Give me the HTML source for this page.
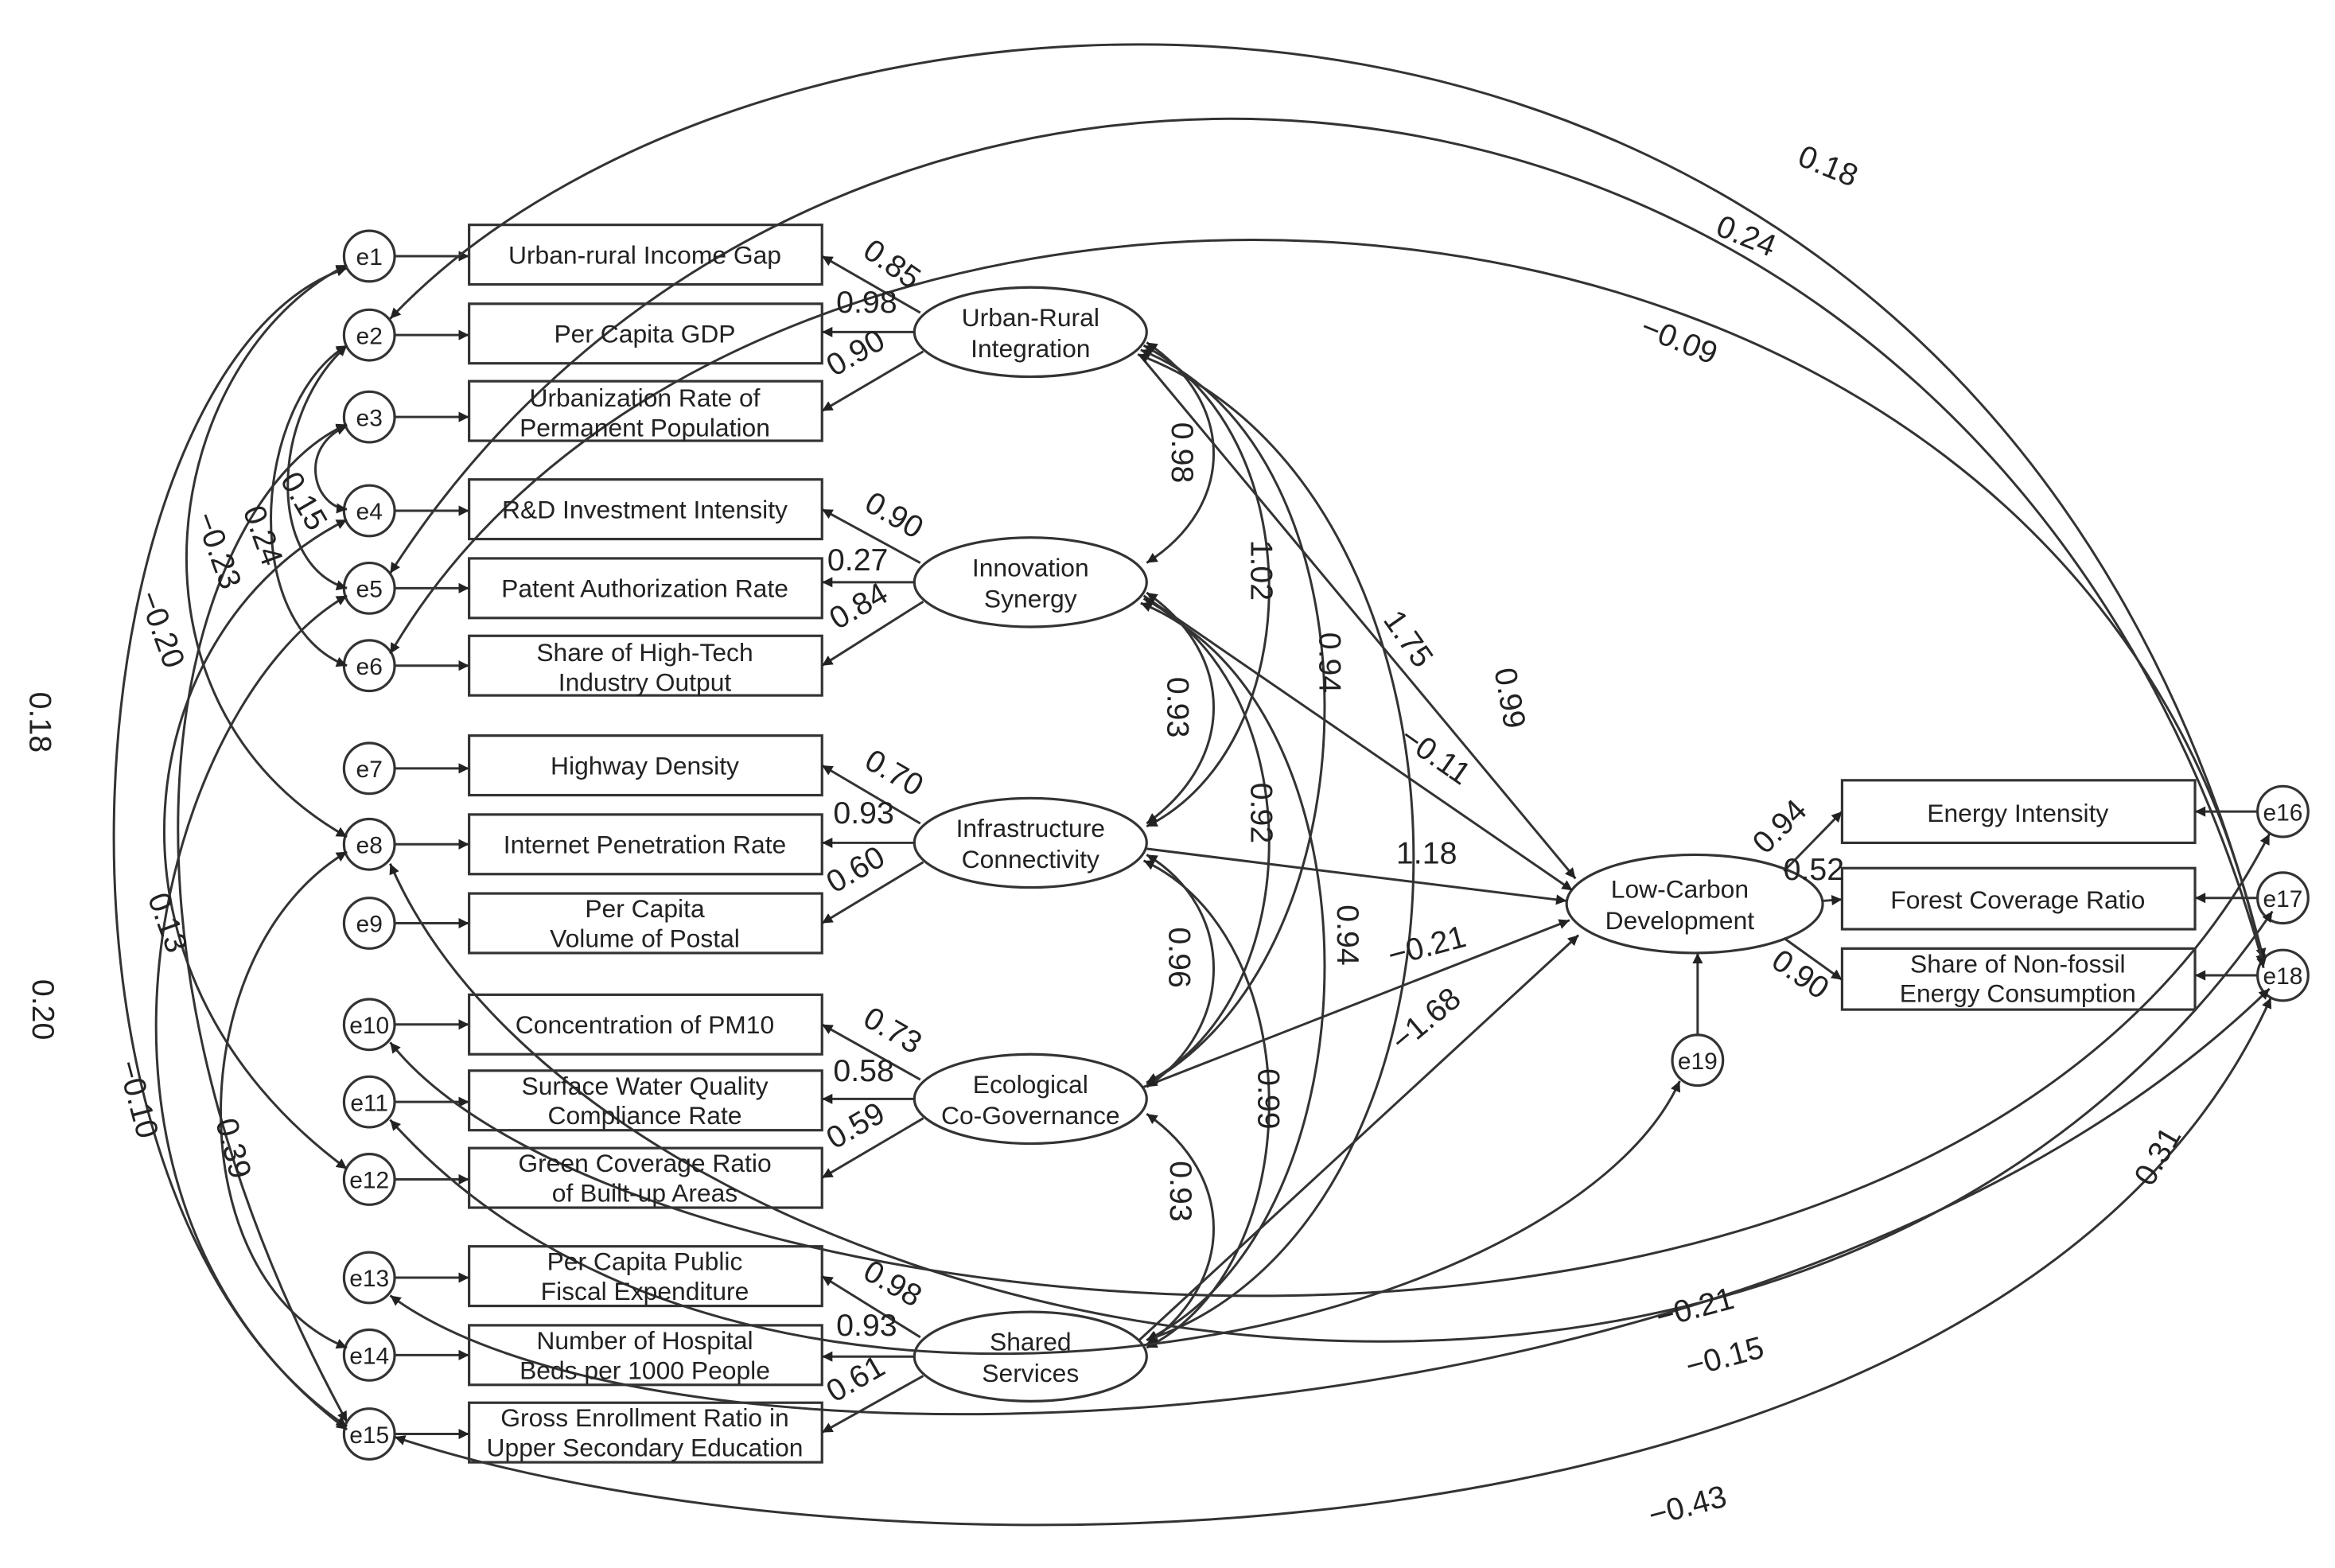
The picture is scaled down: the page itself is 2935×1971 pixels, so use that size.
<!DOCTYPE html>
<html><head><meta charset="utf-8"><style>
html,body{margin:0;padding:0;background:#fff;}
svg{display:block;}
text{font-family:"Liberation Sans",Arial,sans-serif;fill:#222;}
.b{font-size:17px;}
.n{font-size:21px;}
.e{font-size:16px;}
</style></head><body>
<svg width="2935" height="1971" viewBox="0 0 1568 1053" xmlns="http://www.w3.org/2000/svg">
<defs><marker id="a" viewBox="0 0 10 10" refX="10" refY="5" markerWidth="9" markerHeight="7" orient="auto-start-reverse" markerUnits="userSpaceOnUse"><path d="M0,0L10,5L0,10z" fill="#222"/></marker></defs>
<g fill="none" stroke="#333" stroke-width="1.7">
<circle cx="248" cy="172" r="17"/><circle cx="248" cy="225" r="17"/><circle cx="248" cy="280" r="17"/><circle cx="248" cy="343" r="17"/><circle cx="248" cy="395" r="17"/><circle cx="248" cy="447" r="17"/><circle cx="248" cy="516" r="17"/><circle cx="248" cy="567" r="17"/><circle cx="248" cy="620" r="17"/><circle cx="248" cy="688" r="17"/><circle cx="248" cy="740" r="17"/><circle cx="248" cy="792" r="17"/><circle cx="248" cy="858" r="17"/><circle cx="248" cy="910" r="17"/><circle cx="248" cy="963" r="17"/>
<circle cx="1533" cy="545" r="17"/><circle cx="1533" cy="603" r="17"/><circle cx="1533" cy="655" r="17"/><circle cx="1140" cy="712" r="17"/>
<rect x="315" y="151" width="237" height="40"/><rect x="315" y="204" width="237" height="40"/><rect x="315" y="256" width="237" height="40"/>
<rect x="315" y="322" width="237" height="40"/><rect x="315" y="375" width="237" height="40"/><rect x="315" y="427" width="237" height="40"/>
<rect x="315" y="494" width="237" height="40"/><rect x="315" y="547" width="237" height="40"/><rect x="315" y="600" width="237" height="40"/>
<rect x="315" y="668" width="237" height="40"/><rect x="315" y="719" width="237" height="40"/><rect x="315" y="771" width="237" height="40"/>
<rect x="315" y="837" width="237" height="40"/><rect x="315" y="890" width="237" height="40"/><rect x="315" y="942" width="237" height="40"/>
<rect x="1237" y="524" width="237" height="42"/><rect x="1237" y="583" width="237" height="41"/><rect x="1237" y="637" width="237" height="41"/>
<ellipse cx="692" cy="223" rx="78" ry="30"/><ellipse cx="692" cy="391" rx="78" ry="30"/><ellipse cx="692" cy="566" rx="78" ry="30"/><ellipse cx="692" cy="738" rx="78" ry="30"/><ellipse cx="692" cy="911" rx="78" ry="30"/>
<ellipse cx="1138" cy="607" rx="86" ry="33"/>
</g>
<g fill="none" stroke="#333" stroke-width="1.6" marker-end="url(#a)">
<path d="M265,172H315"/><path d="M265,225H315"/><path d="M265,280H315"/><path d="M265,343H315"/><path d="M265,395H315"/><path d="M265,447H315"/><path d="M265,516H315"/><path d="M265,567H315"/><path d="M265,620H315"/><path d="M265,688H315"/><path d="M265,740H315"/><path d="M265,792H315"/><path d="M265,858H315"/><path d="M265,910H315"/><path d="M265,963H315"/>
<path d="M1516,545H1474"/><path d="M1516,603H1474"/><path d="M1516,655H1474"/><path d="M1140,695L1140,640"/>
<path d="M618,210L552,172"/><path d="M614,223H552"/><path d="M620,236L552,276"/>
<path d="M618,378L552,342"/><path d="M614,391H552"/><path d="M620,404L552,447"/>
<path d="M618,553L552,514"/><path d="M614,566H552"/><path d="M620,579L552,620"/>
<path d="M618,725L552,688"/><path d="M614,738H552"/><path d="M620,751L552,791"/>
<path d="M618,898L552,857"/><path d="M614,911H552"/><path d="M620,924L552,962"/>
<path d="M1198,585L1237,545"/><path d="M1224,605L1237,604"/><path d="M1198,630L1237,658"/>
<path d="M765,238L1058,590"/><path d="M768,400L1056,598"/><path d="M770,570L1052,605"/><path d="M768,730L1054,618"/><path d="M765,900L1060,628"/>
</g>
<g fill="none" stroke="#333" stroke-width="1.6" marker-start="url(#a)" marker-end="url(#a)">
<path d="M770,230C830,270 830,340 770,378"/>
<path d="M768,232C880,290 880,500 770,555"/>
<path d="M766,235C930,300 930,640 770,728"/>
<path d="M764,238C1010,330 1010,820 770,900"/>
<path d="M770,398C830,440 830,510 770,553"/>
<path d="M768,402C880,460 880,670 770,727"/>
<path d="M766,405C930,470 930,820 770,900"/>
<path d="M770,574C830,610 830,690 770,730"/>
<path d="M768,578C880,630 880,850 770,905"/>
<path d="M770,748C830,790 830,860 770,903"/>
<path d="M233,180C50,240 0,800 233,958"/>
<path d="M233,178C110,240 70,470 233,562"/>
<path d="M233,232C170,270 160,420 233,447"/>
<path d="M233,232C180,280 180,380 233,395"/>
<path d="M233,286C200,300 210,340 233,342"/>
<path d="M233,285C130,330 40,600 233,955"/>
<path d="M233,349C90,420 50,650 233,785"/>
<path d="M233,400C110,470 20,800 233,960"/>
<path d="M233,572C120,640 120,860 233,905"/>
<path d="M262,214C520,-60 1330,-110 1520,644"/>
<path d="M262,385C560,-80 1330,-30 1520,648"/>
<path d="M262,439C500,30 1400,50 1520,650"/>
<path d="M265,965C600,1075 1350,1060 1525,670"/>
<path d="M262,580C400,900 1200,1090 1526,612"/>
<path d="M262,700C420,900 1300,1000 1524,560"/>
<path d="M262,870C450,1010 1200,980 1524,664"/>
<path d="M262,752C500,1020 1050,900 1128,726"/>
</g>
<g class="e" text-anchor="middle">
<text x="248" y="178">e1</text><text x="248" y="231">e2</text><text x="248" y="286">e3</text><text x="248" y="349">e4</text><text x="248" y="401">e5</text><text x="248" y="453">e6</text><text x="248" y="522">e7</text><text x="248" y="573">e8</text><text x="248" y="626">e9</text><text x="248" y="694">e10</text><text x="248" y="746">e11</text><text x="248" y="798">e12</text><text x="248" y="864">e13</text><text x="248" y="916">e14</text><text x="248" y="969">e15</text>
<text x="1533" y="551">e16</text><text x="1533" y="609">e17</text><text x="1533" y="661">e18</text><text x="1140" y="718">e19</text>
</g>
<g class="b" text-anchor="middle">
<text x="433" y="177">Urban-rural Income Gap</text>
<text x="433" y="230">Per Capita GDP</text>
<text x="433" y="273">Urbanization Rate of</text><text x="433" y="293">Permanent Population</text>
<text x="433" y="348">R&amp;D Investment Intensity</text>
<text x="433" y="401">Patent Authorization Rate</text>
<text x="433" y="444">Share of High-Tech</text><text x="433" y="464">Industry Output</text>
<text x="433" y="520">Highway Density</text>
<text x="433" y="573">Internet Penetration Rate</text>
<text x="433" y="616">Per Capita</text><text x="433" y="636">Volume of Postal</text>
<text x="433" y="694">Concentration of PM10</text>
<text x="433" y="735">Surface Water Quality</text><text x="433" y="755">Compliance Rate</text>
<text x="433" y="787">Green Coverage Ratio</text><text x="433" y="807">of Built-up Areas</text>
<text x="433" y="853">Per Capita Public</text><text x="433" y="873">Fiscal Expenditure</text>
<text x="433" y="906">Number of Hospital</text><text x="433" y="926">Beds per 1000 People</text>
<text x="433" y="958">Gross Enrollment Ratio in</text><text x="433" y="978">Upper Secondary Education</text>
<text x="1355" y="552">Energy Intensity</text>
<text x="1355" y="610">Forest Coverage Ratio</text>
<text x="1355" y="653">Share of Non-fossil</text><text x="1355" y="673">Energy Consumption</text>
<text x="692" y="219">Urban-Rural</text><text x="692" y="240">Integration</text>
<text x="692" y="387">Innovation</text><text x="692" y="408">Synergy</text>
<text x="692" y="562">Infrastructure</text><text x="692" y="583">Connectivity</text>
<text x="692" y="734">Ecological</text><text x="692" y="755">Co-Governance</text>
<text x="692" y="907">Shared</text><text x="692" y="928">Services</text>
<text x="1128" y="603">Low-Carbon</text><text x="1128" y="624">Development</text>
</g>
<g class="n" text-anchor="middle">
<text transform="translate(595,183) rotate(35)">0.85</text>
<text x="582" y="210">0.98</text>
<text transform="translate(578,243) rotate(-30)">0.90</text>
<text transform="translate(597,352) rotate(30)">0.90</text>
<text x="576" y="383">0.27</text>
<text transform="translate(580,413) rotate(-30)">0.84</text>
<text transform="translate(597,525) rotate(30)">0.70</text>
<text x="580" y="553">0.93</text>
<text transform="translate(578,590) rotate(-30)">0.60</text>
<text transform="translate(596,698) rotate(30)">0.73</text>
<text x="580" y="726">0.58</text>
<text transform="translate(578,762) rotate(-30)">0.59</text>
<text transform="translate(596,868) rotate(30)">0.98</text>
<text x="582" y="897">0.93</text>
<text transform="translate(578,932) rotate(-30)">0.61</text>
<text transform="translate(787,304) rotate(90)">0.98</text>
<text transform="translate(840,383) rotate(90)">1.02</text>
<text transform="translate(886,445) rotate(90)">0.94</text>
<text transform="translate(1007,470) rotate(80)">0.99</text>
<text transform="translate(784,475) rotate(90)">0.93</text>
<text transform="translate(840,546) rotate(90)">0.92</text>
<text transform="translate(898,628) rotate(90)">0.94</text>
<text transform="translate(785,643) rotate(90)">0.96</text>
<text transform="translate(845,738) rotate(90)">0.99</text>
<text transform="translate(786,800) rotate(90)">0.93</text>
<text transform="translate(940,433) rotate(55)">1.75</text>
<text transform="translate(960,513) rotate(35)">−0.11</text>
<text x="958" y="580">1.18</text>
<text transform="translate(960,642) rotate(-15)">−0.21</text>
<text transform="translate(962,690) rotate(-40)">−1.68</text>
<text transform="translate(1200,560) rotate(-45)">0.94</text>
<text x="1218" y="591">0.52</text>
<text transform="translate(1205,660) rotate(35)">0.90</text>
<text transform="translate(1225,118) rotate(22)">0.18</text>
<text transform="translate(1170,165) rotate(22)">0.24</text>
<text transform="translate(1125,235) rotate(22)">−0.09</text>
<text transform="translate(198,340) rotate(60)">0.15</text>
<text transform="translate(170,362) rotate(70)">0.24</text>
<text transform="translate(140,372) rotate(70)">−0.23</text>
<text transform="translate(102,425) rotate(70)">−0.20</text>
<text transform="translate(20,485) rotate(90)">0.18</text>
<text transform="translate(106,622) rotate(70)">0.13</text>
<text transform="translate(22,678) rotate(90)">0.20</text>
<text transform="translate(86,740) rotate(75)">−0.10</text>
<text transform="translate(150,773) rotate(75)">0.39</text>
<text transform="translate(1140,885) rotate(-15)">−0.21</text>
<text transform="translate(1160,918) rotate(-15)">−0.15</text>
<text transform="translate(1135,1018) rotate(-15)">−0.43</text>
<text transform="translate(1455,780) rotate(-60)">0.31</text>
</g>
</svg>
</body></html>
